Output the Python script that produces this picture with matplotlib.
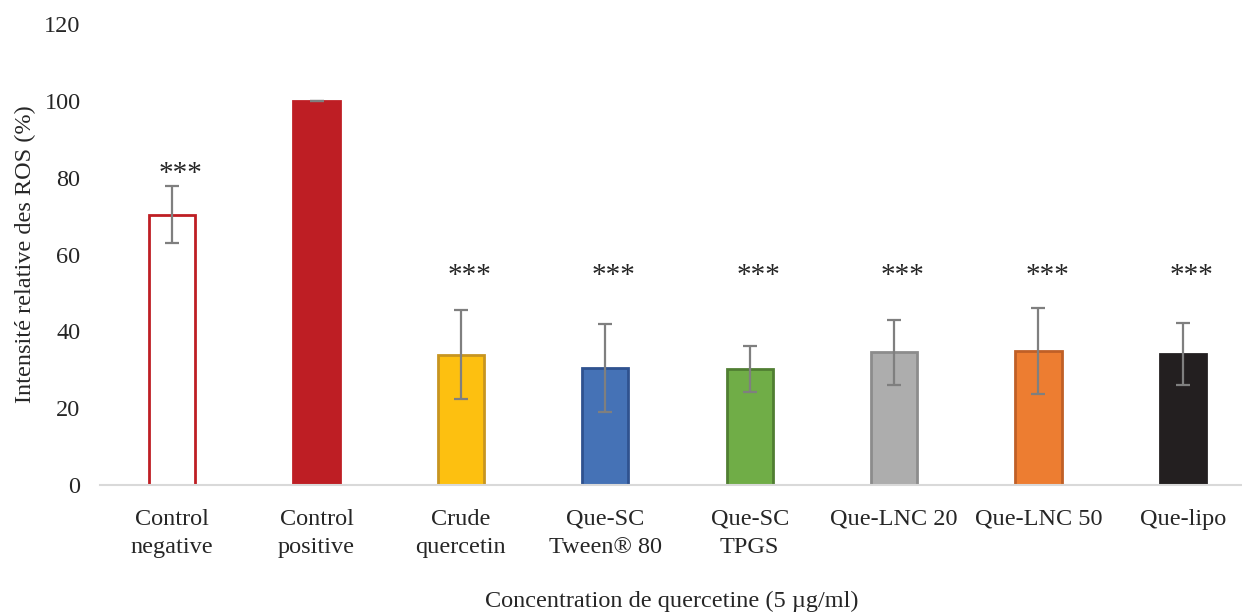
import numpy as np
import matplotlib.pyplot as plt

plt.rcParams['font.family'] = 'Liberation Serif'
plt.rcParams['font.size'] = 17.5

# Relative ROS intensity for each formulation (mean and SD, %)
groups = ['Control\nnegative', 'Control\npositive', 'Crude\nquercetin',
          'Que-SC\nTween® 80', 'Que-SC\nTPGS', 'Que-LNC 20', 'Que-LNC 50', 'Que-lipo']
means = [70.4, 100.0, 33.9, 30.4, 30.2, 34.5, 34.9, 34.2]
sds = [7.4, 0.0, 11.6, 11.4, 6.1, 8.5, 11.2, 8.1]
signif = ['***', '', '***', '***', '***', '***', '***', '***']
star_y = [81.0, 0, 54.5, 54.5, 54.5, 54.5, 54.5, 54.5]

fills = ['white', '#be1e24', '#fdc010', '#4572b6', '#70ad47', '#adadad', '#ed7d31', '#231f20']
edges = ['#be1e24', '#be1e24', '#c79520', '#2f528f', '#507e32', '#8c8c8c', '#c05f26', '#231f20']

fig = plt.figure(figsize=(12.42, 6.14), dpi=100)
ax = fig.add_axes([0.0805, 0.21, 0.93, 0.751])

x = np.arange(len(groups))
ax.bar(x, means, width=0.32, color=fills, edgecolor=edges, linewidth=2, zorder=2)
ax.errorbar(x, means, yerr=sds, fmt='none', ecolor='#7f7f7f', elinewidth=1.6,
            capsize=5, capthick=1.6, zorder=3)

for xi, s, sy in zip(x, signif, star_y):
    if s:
        ax.text(xi + 0.06, sy, s, ha='center', va='center', color='#262626',
                fontsize=21)

ax.set_xlim(-0.5, 7.5)
ax.set_ylim(0, 120)
ax.set_yticks(np.arange(0, 121, 20))
ax.set_xticks(x)
ax.set_xticklabels(groups, va='top', linespacing=1.45)
ax.tick_params(axis='both', length=0, colors='#262626')
ax.tick_params(axis='y', pad=14)
ax.tick_params(axis='x', pad=17)

for side in ('top', 'right', 'left'):
    ax.spines[side].set_visible(False)
ax.spines['bottom'].set_color('#d9d9d9')
ax.spines['bottom'].set_linewidth(1.5)

ax.set_ylabel('Intensité relative des ROS (%)', color='#262626', labelpad=6)
fig.text(0.541, 0.02, 'Concentration de quercetine (5 µg/ml)', ha='center',
         va='center', color='#262626')

fig.savefig('out.png', dpi=100)
